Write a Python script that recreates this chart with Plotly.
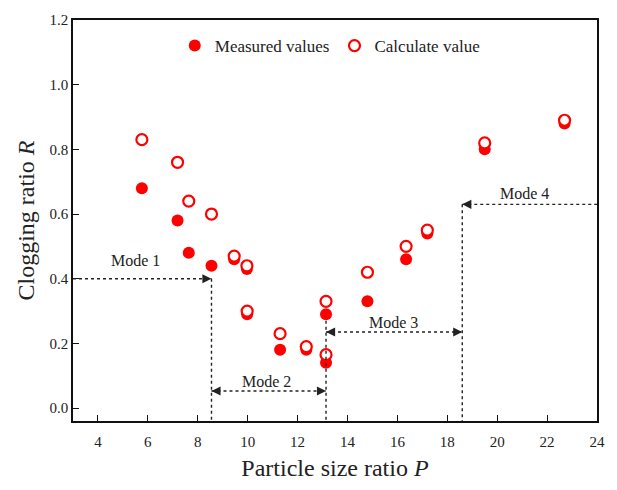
import plotly.graph_objects as go

# Particle size ratio P for each test
particle_ratio = [5.76, 7.19, 7.64, 8.55, 9.46, 9.97, 9.98, 11.3, 12.35, 13.14, 13.14, 14.8, 16.35, 17.2, 19.5, 22.7]
# Clogging ratio R, measured
measured = [0.68, 0.58, 0.48, 0.44, 0.46, 0.43, 0.29, 0.18, 0.18, 0.29, 0.14, 0.33, 0.46, 0.54, 0.80, 0.88]
# Clogging ratio R, calculated
calculated = [0.83, 0.76, 0.64, 0.60, 0.47, 0.44, 0.30, 0.23, 0.19, 0.33, 0.165, 0.42, 0.50, 0.55, 0.82, 0.89]

x_ticks = [4, 6, 8, 10, 12, 14, 16, 18, 20, 22, 24]
y_ticks = [0.0, 0.2, 0.4, 0.6, 0.8, 1.0, 1.2]
y_tick_labels = ["0.0", "0.2", "0.4", "0.6", "0.8", "1.0", "1.2"]

# Boundaries between clogging modes (P values) and mode labels
mode_bounds = [8.55, 13.14, 18.6]
mode_names = ["Mode 1", "Mode 2", "Mode 3", "Mode 4"]

X_MIN, X_MAX = 3, 24
Y_MIN, Y_MAX = -0.04, 1.2

RED = "#ff0000"
INK = "#222222"
FONT = "Liberation Serif, Times New Roman, serif"

fig = go.Figure()

fig.add_trace(go.Scatter(
    x=particle_ratio, y=measured, mode="markers", name="Measured values",
    marker=dict(symbol="circle", size=12, color=RED, line=dict(width=0)),
))
fig.add_trace(go.Scatter(
    x=particle_ratio, y=calculated, mode="markers", name="Calculate value",
    marker=dict(symbol="circle", size=11, color="white", line=dict(width=2.2, color=RED)),
))

dash_style = dict(color=INK, width=1.4, dash="3px,3px")

def dashed(x0, y0, x1, y1):
    fig.add_shape(type="line", x0=x0, y0=y0, x1=x1, y1=y1, xref="x", yref="y", line=dash_style)

def head(x, y, dx):
    # small solid arrowhead pointing at (x, y); dx is the pixel offset of its tail
    fig.add_annotation(x=x, y=y, ax=dx, ay=0, text="", showarrow=True,
                       arrowhead=2, arrowsize=1.3, arrowwidth=1.4, arrowcolor=INK)

b1, b2, b3 = mode_bounds
y_m1, y_m2, y_m3, y_m4 = 0.40, 0.053, 0.235, 0.63

# Mode 1
dashed(X_MIN, y_m1, b1, y_m1)
head(b1, y_m1, -10)
# Vertical boundaries
dashed(b1, y_m1, b1, Y_MIN)
dashed(b2, 0.27, b2, Y_MIN)
dashed(b3, y_m4, b3, Y_MIN)
# Mode 2
dashed(b1, y_m2, b2, y_m2)
head(b1, y_m2, 10)
head(b2, y_m2, -10)
# Mode 3
dashed(b2, y_m3, b3, y_m3)
head(b2, y_m3, 10)
head(b3, y_m3, -10)
# Mode 4
dashed(b3, y_m4, X_MAX, y_m4)
head(b3, y_m4, 10)

label_pos = [(5.5, 0.455), (10.75, 0.082), (15.85, 0.265), (21.1, 0.665)]
for name, (lx, ly) in zip(mode_names, label_pos):
    fig.add_annotation(x=lx, y=ly, text=name, showarrow=False,
                       font=dict(family=FONT, size=16, color=INK))

axis_common = dict(
    showline=True, mirror=True, linecolor="#111", linewidth=1.6,
    ticks="inside", ticklen=6, tickwidth=1.4, tickcolor="#111",
    showgrid=False, zeroline=False,
    tickfont=dict(family=FONT, size=15, color=INK),
)

fig.update_xaxes(
    range=[X_MIN, X_MAX], tickvals=x_ticks, ticklabelstandoff=6,
    title=dict(text="Particle size ratio <i>P</i>", font=dict(family=FONT, size=24, color=INK), standoff=10),
    **axis_common,
)
fig.update_yaxes(
    range=[Y_MIN, Y_MAX], tickvals=y_ticks, ticktext=y_tick_labels,
    title=dict(text="Clogging ratio <i>R</i>", font=dict(family=FONT, size=24, color=INK), standoff=8),
    **axis_common,
)

fig.update_layout(
    width=617, height=490,
    margin=dict(l=73, r=16, t=13, b=69),
    plot_bgcolor="white", paper_bgcolor="white",
    legend=dict(orientation="h", x=0.49, xanchor="center", y=0.935, yanchor="middle",
                bgcolor="rgba(0,0,0,0)", font=dict(family=FONT, size=17, color=INK),
                itemwidth=30),
    showlegend=True,
)

fig.write_html("out.html")
